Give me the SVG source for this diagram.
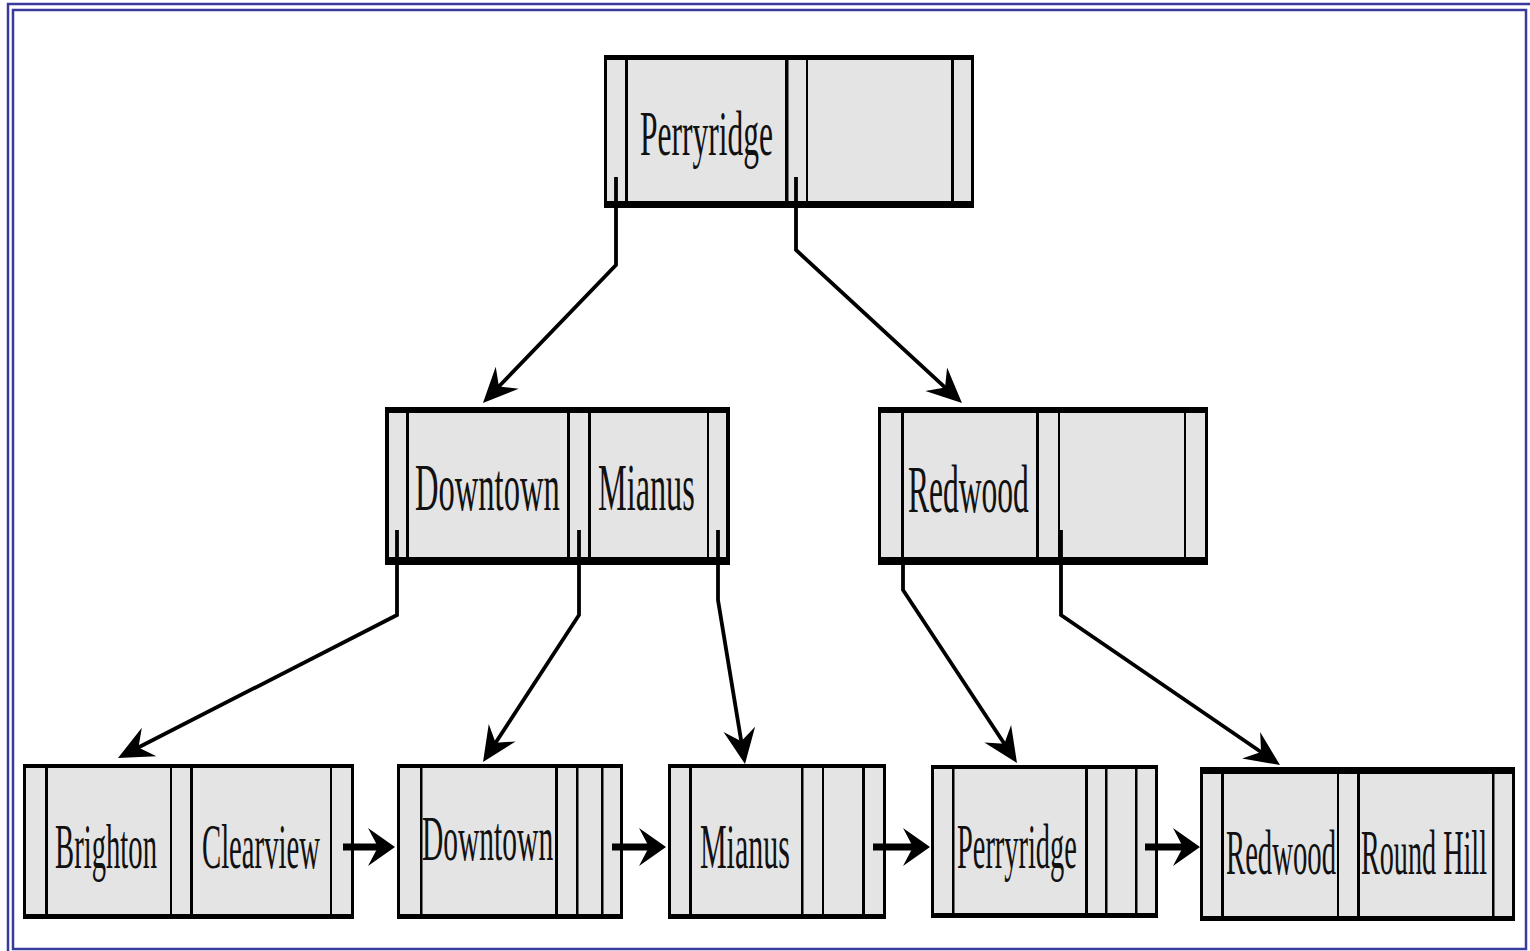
<svg xmlns="http://www.w3.org/2000/svg" width="1530" height="951" viewBox="0 0 1530 951">
<style>
.bg{fill:#ffffff}
.frame{fill:none;stroke:#3a3a9c;stroke-width:2.5}
.cell{fill:#e4e4e4}
.bar{fill:#000000}
.lbl{font-family:"Liberation Serif","Times New Roman",serif;fill:#111111}
.root{font-size:64px}
.mid{font-size:67px}
.leaf{font-size:64px}
.conn{fill:none;stroke:#000;stroke-width:3.8;stroke-linejoin:miter}
.next{fill:none;stroke:#000;stroke-width:7}
</style>
<defs>
<marker id="ah" markerUnits="userSpaceOnUse" orient="auto" refX="0" refY="0" markerWidth="60" markerHeight="60" overflow="visible">
<path d="M8,0 L-27,-16 L-15,0 L-27,16 Z" fill="#000"/>
</marker>
<marker id="hh" markerUnits="userSpaceOnUse" orient="auto" refX="0" refY="0" markerWidth="60" markerHeight="60" overflow="visible">
<path d="M8,0 L-19,-19 L-9,0 L-19,19 Z" fill="#000"/>
</marker>
</defs>
<rect class="bg" x="0" y="0" width="1530" height="951"/>
<g id="frame">
<path class="frame" d="M8,960 V4 H1540"/>
<rect class="frame" x="13" y="10" width="1513" height="939"/>
</g>

<g id="root">
<rect class="cell" x="604" y="55" width="370" height="153"/>
<rect class="bar" x="604" y="55" width="370" height="5"/>
<rect class="bar" x="604" y="201" width="370" height="7"/>
<rect class="bar" x="604" y="55" width="3" height="153"/>
<rect class="bar" x="971" y="55" width="3" height="153"/>
<rect class="bar" x="625" y="55" width="3" height="153"/>
<rect class="bar" x="785" y="55" width="3.5" height="153"/>
<rect class="bar" x="806" y="55" width="2" height="153"/>
<rect class="bar" x="951" y="55" width="3" height="153"/>
<text class="lbl root" transform="translate(640,155) scale(0.47,1)" x="0" y="0" textLength="283" lengthAdjust="spacingAndGlyphs">Perryridge</text>
</g>

<g id="mid-left">
<rect class="cell" x="385" y="407" width="345" height="158"/>
<rect class="bar" x="385" y="407" width="345" height="6"/>
<rect class="bar" x="385" y="557" width="345" height="8"/>
<rect class="bar" x="385" y="407" width="4" height="158"/>
<rect class="bar" x="726" y="407" width="4" height="158"/>
<rect class="bar" x="406" y="407" width="3" height="158"/>
<rect class="bar" x="567" y="407" width="3" height="158"/>
<rect class="bar" x="588" y="407" width="3" height="158"/>
<rect class="bar" x="707" y="407" width="2" height="158"/>
<text class="lbl mid" transform="translate(415,510) scale(0.47,1)" x="0" y="0" textLength="308" lengthAdjust="spacingAndGlyphs">Downtown</text>
<text class="lbl mid" transform="translate(598,510) scale(0.47,1)" x="0" y="0" textLength="206" lengthAdjust="spacingAndGlyphs">Mianus</text>
</g>

<g id="mid-right">
<rect class="cell" x="878" y="407" width="330" height="158"/>
<rect class="bar" x="878" y="407" width="330" height="6"/>
<rect class="bar" x="878" y="557" width="330" height="8"/>
<rect class="bar" x="878" y="407" width="3" height="158"/>
<rect class="bar" x="1205" y="407" width="3" height="158"/>
<rect class="bar" x="901" y="407" width="3" height="158"/>
<rect class="bar" x="1036" y="407" width="3" height="158"/>
<rect class="bar" x="1058" y="407" width="2" height="158"/>
<rect class="bar" x="1184" y="407" width="2" height="158"/>
<text class="lbl mid" transform="translate(908,512) scale(0.47,1)" x="0" y="0" textLength="257" lengthAdjust="spacingAndGlyphs">Redwood</text>
</g>

<g id="leaf-1">
<rect class="cell" x="23" y="764" width="331" height="155"/>
<rect class="bar" x="23" y="764" width="331" height="4"/>
<rect class="bar" x="23" y="914" width="331" height="5"/>
<rect class="bar" x="23" y="764" width="3" height="155"/>
<rect class="bar" x="351" y="764" width="3" height="155"/>
<rect class="bar" x="45" y="764" width="3" height="155"/>
<rect class="bar" x="170" y="764" width="2" height="155"/>
<rect class="bar" x="190" y="764" width="3" height="155"/>
<rect class="bar" x="330" y="764" width="2" height="155"/>
<text class="lbl leaf" transform="translate(55,868) scale(0.47,1)" x="0" y="0" textLength="217" lengthAdjust="spacingAndGlyphs">Brighton</text>
<text class="lbl leaf" transform="translate(202,868) scale(0.47,1)" x="0" y="0" textLength="251" lengthAdjust="spacingAndGlyphs">Clearview</text>
</g>

<g id="leaf-2">
<rect class="cell" x="397" y="764" width="226" height="155"/>
<rect class="bar" x="397" y="764" width="226" height="4"/>
<rect class="bar" x="397" y="914" width="226" height="5"/>
<rect class="bar" x="397" y="764" width="3" height="155"/>
<rect class="bar" x="620" y="764" width="3" height="155"/>
<rect class="bar" x="420" y="764" width="2.5" height="155"/>
<rect class="bar" x="555" y="764" width="3" height="155"/>
<rect class="bar" x="576" y="764" width="2.5" height="155"/>
<rect class="bar" x="601" y="764" width="2.5" height="155"/>
<text class="lbl leaf" transform="translate(422,860) scale(0.47,1)" x="0" y="0" textLength="279" lengthAdjust="spacingAndGlyphs">Downtown</text>
</g>

<g id="leaf-3">
<rect class="cell" x="668" y="764" width="218" height="155"/>
<rect class="bar" x="668" y="764" width="218" height="4"/>
<rect class="bar" x="668" y="914" width="218" height="5"/>
<rect class="bar" x="668" y="764" width="3" height="155"/>
<rect class="bar" x="883" y="764" width="3" height="155"/>
<rect class="bar" x="689" y="764" width="3" height="155"/>
<rect class="bar" x="801" y="764" width="2.5" height="155"/>
<rect class="bar" x="822" y="764" width="2" height="155"/>
<rect class="bar" x="862" y="764" width="3" height="155"/>
<text class="lbl leaf" transform="translate(700,868) scale(0.47,1)" x="0" y="0" textLength="191" lengthAdjust="spacingAndGlyphs">Mianus</text>
</g>

<g id="leaf-4">
<rect class="cell" x="931" y="765" width="227" height="153"/>
<rect class="bar" x="931" y="765" width="227" height="4"/>
<rect class="bar" x="931" y="913" width="227" height="5"/>
<rect class="bar" x="931" y="765" width="3" height="153"/>
<rect class="bar" x="1155" y="765" width="3" height="153"/>
<rect class="bar" x="952" y="765" width="2.5" height="153"/>
<rect class="bar" x="1085" y="765" width="3" height="153"/>
<rect class="bar" x="1105" y="765" width="2.5" height="153"/>
<rect class="bar" x="1135" y="765" width="2.5" height="153"/>
<text class="lbl leaf" transform="translate(957,868) scale(0.47,1)" x="0" y="0" textLength="255" lengthAdjust="spacingAndGlyphs">Perryridge</text>
</g>

<g id="leaf-5">
<rect class="cell" x="1200" y="767" width="315" height="154"/>
<rect class="bar" x="1200" y="767" width="315" height="7"/>
<rect class="bar" x="1200" y="916" width="315" height="5"/>
<rect class="bar" x="1200" y="767" width="3" height="154"/>
<rect class="bar" x="1512" y="767" width="3" height="154"/>
<rect class="bar" x="1221" y="767" width="3" height="154"/>
<rect class="bar" x="1337" y="767" width="2" height="154"/>
<rect class="bar" x="1357" y="767" width="3" height="154"/>
<rect class="bar" x="1492" y="767" width="2.5" height="154"/>
<text class="lbl leaf" transform="translate(1226,874) scale(0.47,1)" x="0" y="0" textLength="234" lengthAdjust="spacingAndGlyphs">Redwood</text>
<text class="lbl leaf" transform="translate(1361,874) scale(0.47,1)" x="0" y="0" textLength="268" lengthAdjust="spacingAndGlyphs">Round Hill</text>
</g>

<g id="connectors">
<path class="conn" d="M616,177 V265 L488.5,397.2" marker-end="url(#ah)"/>
<path class="conn" d="M796,177 V250 L956.1,397.6" marker-end="url(#ah)"/>
<path class="conn" d="M397,530 V615 L125.1,754.3" marker-end="url(#ah)"/>
<path class="conn" d="M579,530 V615 L487.4,755.3" marker-end="url(#ah)"/>
<path class="conn" d="M718,530 V600 L743.7,756.1" marker-end="url(#ah)"/>
<path class="conn" d="M903,565 V590 L1012.6,756.3" marker-end="url(#ah)"/>
<path class="conn" d="M1061,530 V615 L1273.4,760.5" marker-end="url(#ah)"/>
<path class="next" d="M343,847 H387" marker-end="url(#hh)"/>
<path class="next" d="M612,847 H658" marker-end="url(#hh)"/>
<path class="next" d="M873,847 H922" marker-end="url(#hh)"/>
<path class="next" d="M1145,847 H1192" marker-end="url(#hh)"/>
</g>
</svg>
